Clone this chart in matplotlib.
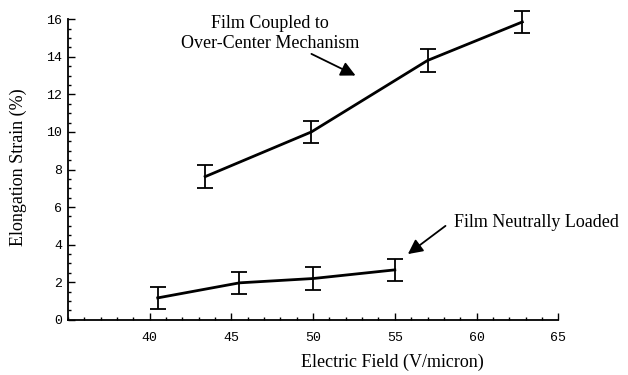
import matplotlib.pyplot as plt
from matplotlib.ticker import MultipleLocator

# data
coupled_x = [43.4, 49.9, 57.0, 62.8]
coupled_y = [7.62, 10.0, 13.8, 15.85]
coupled_err = [0.6, 0.6, 0.6, 0.6]

neutral_x = [40.5, 45.5, 50.0, 55.0]
neutral_y = [1.17, 1.97, 2.2, 2.66]
neutral_err = [0.6, 0.6, 0.6, 0.6]

x_ticks = [40, 45, 50, 55, 60, 65]
y_ticks = [0, 2, 4, 6, 8, 10, 12, 14, 16]

serif = "Liberation Serif"
mono = "Liberation Mono"

fig = plt.figure(figsize=(6.28, 3.75), dpi=100)
ax = fig.add_axes([0.108, 0.147, 0.781, 0.802])

for xs, ys, err in [(coupled_x, coupled_y, coupled_err),
                    (neutral_x, neutral_y, neutral_err)]:
    ax.plot(xs, ys, color="black", lw=2.0, clip_on=False)
    ax.errorbar(xs, ys, yerr=err, fmt="none", ecolor="black",
                elinewidth=1.3, capsize=6, capthick=1.3, clip_on=False)

ax.set_xlim(35, 65)
ax.set_ylim(0, 16)
ax.set_xticks(x_ticks)
ax.set_yticks(y_ticks)
ax.xaxis.set_minor_locator(MultipleLocator(1))
ax.yaxis.set_minor_locator(MultipleLocator(0.5))
ax.tick_params(which="both", direction="in", width=1.0, color="black")
ax.tick_params(which="major", length=5)
ax.tick_params(which="minor", length=2.5)
ax.tick_params(axis="x", pad=9)
ax.tick_params(axis="y", pad=4)
for lab in ax.get_xticklabels() + ax.get_yticklabels():
    lab.set_fontfamily(mono)
    lab.set_fontsize(9.5)

for side in ["top", "right"]:
    ax.spines[side].set_visible(False)
for side in ["left", "bottom"]:
    ax.spines[side].set_linewidth(1.3)

fig.text(0.03, 0.555, "Elongation Strain (%)", rotation=90, ha="center",
         va="center", family=serif, fontsize=13)
fig.text(0.625, 0.035, "Electric Field (V/micron)", ha="center",
         va="center", family=serif, fontsize=13)

ax.text(47.35, 15.25, "Film Coupled to\nOver-Center Mechanism", ha="center",
        va="center", family=serif, fontsize=13, linespacing=1.25)
ax.annotate("", xy=(52.6, 13.0), xytext=(49.9, 14.15),
            arrowprops=dict(arrowstyle="-|>", color="black", lw=1.3,
                            mutation_scale=22, shrinkA=0, shrinkB=0))

ax.text(58.6, 5.2, "Film Neutrally Loaded", ha="left", va="center",
        family=serif, fontsize=13, clip_on=False)
ax.annotate("", xy=(55.8, 3.5), xytext=(58.1, 5.0),
            arrowprops=dict(arrowstyle="-|>", color="black", lw=1.3,
                            mutation_scale=22, shrinkA=0, shrinkB=0))

fig.savefig("out.png", dpi=100)
